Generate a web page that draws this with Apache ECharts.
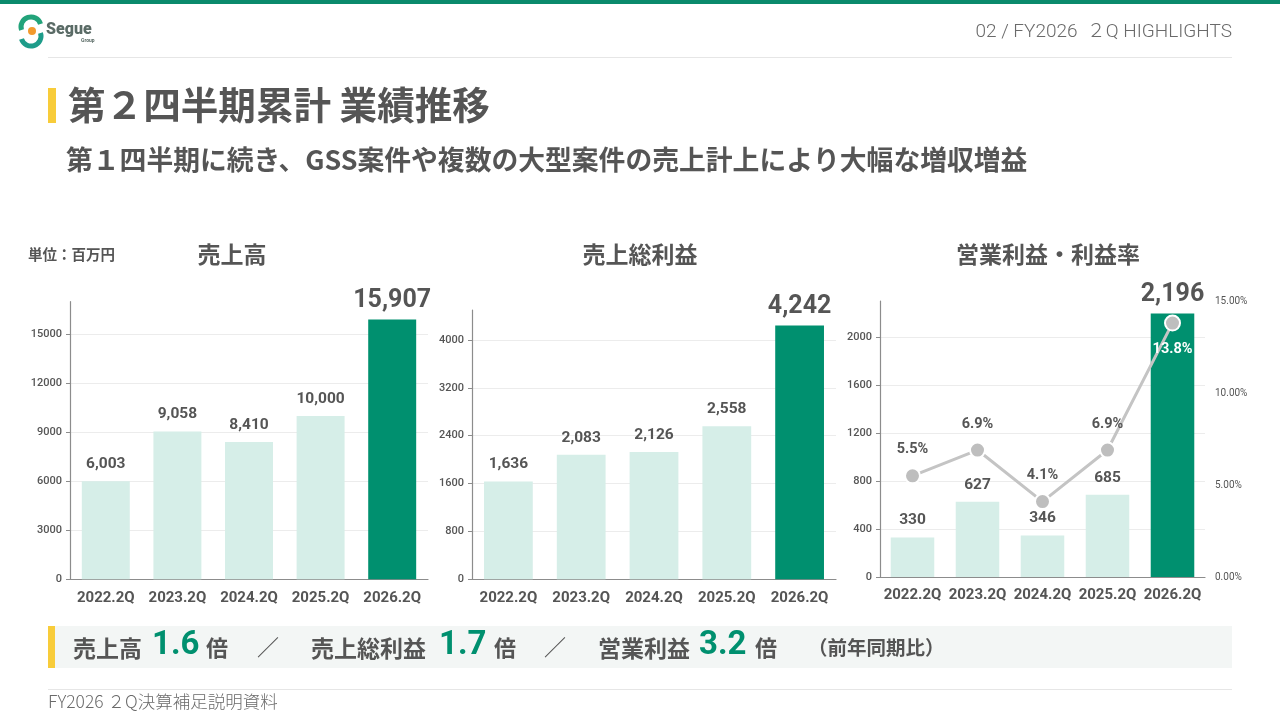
<!DOCTYPE html>
<html>
<head>
<meta charset="utf-8">
<script src="https://cdn.jsdelivr.net/npm/echarts@6/dist/echarts.min.js"></script>
<style>
html,body{margin:0;padding:0;background:#fff;}
#main{width:1280px;height:720px;}
</style>
</head>
<body>
<div id="main"></div>
<script>
const categories = ['2022.2Q', '2023.2Q', '2024.2Q', '2025.2Q', '2026.2Q'];
const salesValues = [6003, 9058, 8410, 10000, 15907];
const grossValues = [1636, 2083, 2126, 2558, 4242];
const opValues = [330, 627, 346, 685, 2196];
const marginValues = [5.5, 6.9, 4.1, 6.9, 13.8];
const salesTicks = [0, 3000, 6000, 9000, 12000, 15000];
const grossTicks = [0, 800, 1600, 2400, 3200, 4000];
const opTicks = [0, 400, 800, 1200, 1600, 2000];
const marginTicks = [0, 5, 10, 15];

const FONT = '"Noto Sans CJK JP", "Noto Sans", sans-serif';
const NUM = 'Roboto, "Noto Sans", sans-serif';
const TXT = '#555555';
const DARK = '#00906F';
const LIGHT = '#D6EEE8';

function barData(values) {
  const last = values.length - 1;
  return values.map((v, i) => ({
    value: v,
    itemStyle: { color: i === last ? DARK : LIGHT },
    label: i === last
      ? { fontSize: 25, distance: 6 }
      : { fontSize: 15.5, distance: 9 }
  }));
}
function fmt(v) { return Number(v).toLocaleString('en-US'); }

function xAxis(gi) {
  return {
    type: 'category', gridIndex: gi, data: categories,
    axisLine: { lineStyle: { color: '#8c8c8c', width: 1.2 } },
    axisTick: { show: false },
    axisLabel: { color: TXT, fontSize: 15, fontWeight: 'bold', fontFamily: NUM, margin: 11, interval: 0 }
  };
}
function yAxis(gi, max, interval) {
  return {
    type: 'value', gridIndex: gi, min: 0, max: max, interval: interval,
    axisLine: { show: true, lineStyle: { color: '#8c8c8c', width: 1.2 } },
    axisTick: { show: true, length: 4, lineStyle: { color: '#8c8c8c' } },
    axisLabel: { color: TXT, fontSize: 11, fontWeight: 500, fontFamily: NUM, showMaxLabel: false, margin: 8, formatter: v => String(v) },
    splitLine: { show: true, showMaxLine: false, lineStyle: { color: '#ececec' } }
  };
}
function barSeries(xi, yi, values) {
  return {
    type: 'bar', xAxisIndex: xi, yAxisIndex: yi, barWidth: '67%',
    data: barData(values),
    label: {
      show: true, position: 'top', color: TXT, fontWeight: 'bold', fontFamily: NUM,
      formatter: p => fmt(p.value)
    }
  };
}

const chart = echarts.init(document.getElementById('main'), null, { renderer: 'canvas' });

const graphics = [
  { type: 'rect', shape: { x: 0, y: 0, width: 1280, height: 4 }, style: { fill: '#0A8A6C' } },
  // logo
  { type: 'arc', shape: { cx: 31, cy: 27, r: 10, startAngle: Math.PI * 0.9, endAngle: Math.PI * 1.9 }, style: { stroke: '#22A37A', lineWidth: 5, fill: null } },
  { type: 'arc', shape: { cx: 31, cy: 36, r: 10, startAngle: -Math.PI * 0.1, endAngle: Math.PI * 0.9 }, style: { stroke: '#1E9C8A', lineWidth: 5, fill: null } },
  { type: 'circle', shape: { cx: 32, cy: 31, r: 4 }, style: { fill: '#F29A2E' } },
  { type: 'text', x: 46, y: 22, style: { text: 'Segue', fill: '#5a6b66', font: '900 16px ' + NUM } },
  { type: 'text', x: 81, y: 38, style: { text: 'Group', fill: '#5a6b66', font: 'bold 5px ' + NUM } },
  // header right
  { type: 'text', x: 1232, y: 32, style: { text: '02 / FY2026  ２Q HIGHLIGHTS', fill: '#6a6a6a', font: '300 19px Roboto, ' + FONT, align: 'right', verticalAlign: 'middle' } },
  { type: 'rect', shape: { x: 48, y: 57, width: 1184, height: 1 }, style: { fill: '#e6e6e6' } },
  // title
  { type: 'rect', shape: { x: 48, y: 88, width: 8, height: 35 }, style: { fill: '#F8CC3A' } },
  { type: 'text', x: 68, y: 105, style: { text: '第２四半期累計 業績推移', fill: TXT, font: 'bold 37.6px ' + FONT, verticalAlign: 'middle' } },
  { type: 'text', x: 66, y: 160, style: { text: '第１四半期に続き、GSS案件や複数の大型案件の売上計上により大幅な増収増益', fill: TXT, font: 'bold 26.8px ' + FONT, verticalAlign: 'middle' } },
  // chart titles
  { type: 'text', x: 28, y: 254, style: { text: '単位：百万円', fill: TXT, font: 'bold 14.5px ' + FONT, verticalAlign: 'middle' } },
  { type: 'text', x: 232, y: 254, style: { text: '売上高', fill: TXT, font: 'bold 23px ' + FONT, align: 'center', verticalAlign: 'middle' } },
  { type: 'text', x: 640, y: 254, style: { text: '売上総利益', fill: TXT, font: 'bold 23px ' + FONT, align: 'center', verticalAlign: 'middle' } },
  { type: 'text', x: 1048, y: 254, style: { text: '営業利益・利益率', fill: TXT, font: 'bold 23px ' + FONT, align: 'center', verticalAlign: 'middle' } },
  // summary box
  { type: 'rect', shape: { x: 48, y: 626, width: 1184, height: 42 }, style: { fill: '#F3F6F5' } },
  { type: 'rect', shape: { x: 48, y: 626, width: 7, height: 42 }, style: { fill: '#F8CC3A' } },
  { type: 'text', x: 73, y: 648, style: { text: '売上高', fill: TXT, font: 'bold 23px ' + FONT, verticalAlign: 'middle' } },
  { type: 'text', x: 152, y: 646, style: { text: '1.6', fill: DARK, font: 'bold 33px ' + NUM, verticalAlign: 'middle' } },
  { type: 'text', x: 206, y: 648, style: { text: '倍', fill: TXT, font: 'bold 22px ' + FONT, verticalAlign: 'middle' } },
  { type: 'text', x: 257, y: 647, style: { text: '／', fill: TXT, font: '22px ' + FONT, verticalAlign: 'middle' } },
  { type: 'text', x: 311, y: 648, style: { text: '売上総利益', fill: TXT, font: 'bold 23px ' + FONT, verticalAlign: 'middle' } },
  { type: 'text', x: 439, y: 646, style: { text: '1.7', fill: DARK, font: 'bold 33px ' + NUM, verticalAlign: 'middle' } },
  { type: 'text', x: 494, y: 648, style: { text: '倍', fill: TXT, font: 'bold 22px ' + FONT, verticalAlign: 'middle' } },
  { type: 'text', x: 544, y: 647, style: { text: '／', fill: TXT, font: '22px ' + FONT, verticalAlign: 'middle' } },
  { type: 'text', x: 598, y: 648, style: { text: '営業利益', fill: TXT, font: 'bold 23px ' + FONT, verticalAlign: 'middle' } },
  { type: 'text', x: 699, y: 646, style: { text: '3.2', fill: DARK, font: 'bold 33px ' + NUM, verticalAlign: 'middle' } },
  { type: 'text', x: 755, y: 648, style: { text: '倍', fill: TXT, font: 'bold 22px ' + FONT, verticalAlign: 'middle' } },
  { type: 'text', x: 808, y: 648, style: { text: '（前年同期比）', fill: TXT, font: 'bold 19.5px ' + FONT, verticalAlign: 'middle' } },
  // footer
  { type: 'rect', shape: { x: 48, y: 689, width: 1184, height: 1 }, style: { fill: '#e6e6e6' } },
  { type: 'text', x: 48, y: 701, style: { text: 'FY2026 ２Q決算補足説明資料', fill: '#6a6a6a', font: '300 17.5px ' + FONT, verticalAlign: 'middle' } }
];

const option = {
  backgroundColor: '#ffffff',
  animation: false,
  textStyle: { fontFamily: FONT },
  grid: [
    { left: 70, right: 852, top: 301.7, bottom: 140.7 },
    { left: 472, right: 444, top: 310, bottom: 140.7 },
    { left: 880, right: 75, top: 301, bottom: 143 }
  ],
  xAxis: [xAxis(0), xAxis(1), xAxis(2)],
  yAxis: [
    yAxis(0, 17000, salesTicks[1] - salesTicks[0]),
    yAxis(1, 4500, grossTicks[1] - grossTicks[0]),
    yAxis(2, 2300, opTicks[1] - opTicks[0]),
    {
      type: 'value', gridIndex: 2, position: 'right', min: 0, max: marginTicks[marginTicks.length - 1],
      interval: marginTicks[1] - marginTicks[0],
      axisLine: { show: false }, axisTick: { show: false }, splitLine: { show: false },
      axisLabel: { color: TXT, fontSize: 10, fontFamily: NUM, margin: 10, formatter: v => v.toFixed(2) + '%' }
    }
  ],
  series: [
    barSeries(0, 0, salesValues),
    barSeries(1, 1, grossValues),
    barSeries(2, 2, opValues),
    {
      type: 'line', xAxisIndex: 2, yAxisIndex: 3,
      data: marginValues.map((v, i) => ({
        value: v,
        label: i === marginValues.length - 1
          ? { position: 'bottom', color: '#ffffff', distance: 10 }
          : { position: 'top', color: TXT, distance: 10 }
      })),
      symbol: 'circle', symbolSize: 15,
      lineStyle: { color: '#C4C4C4', width: 3 },
      itemStyle: { color: '#BEBEBE', borderColor: '#ffffff', borderWidth: 2 },
      label: { show: true, fontSize: 14.5, fontWeight: 'bold', fontFamily: NUM, formatter: p => p.value.toFixed(1) + '%' },
      z: 5
    }
  ],
  graphic: graphics
};
chart.setOption(option);
</script>
</body>
</html>
